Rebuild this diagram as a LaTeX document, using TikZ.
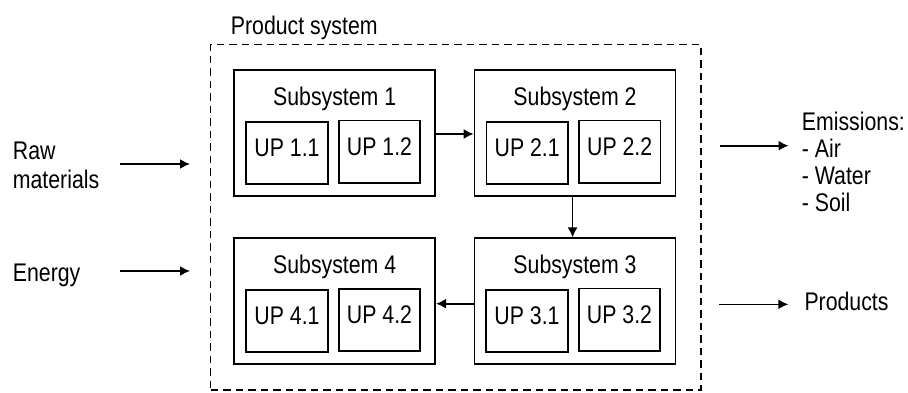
\documentclass[tikz,border=0pt]{standalone}
\usepackage{fontspec}
\setmainfont{Liberation Sans}[FakeStretch=0.835]
\usetikzlibrary{arrows.meta}
\begin{document}
\begin{tikzpicture}[x=1pt,y=1pt,
  lbl/.style={font=\fontsize{25.5}{27}\selectfont, inner sep=0pt},
  sbox/.style={draw, line width=1.8pt, minimum width=201pt, minimum height=126pt, inner sep=0pt},
  ubox/.style={draw, line width=1.8pt, minimum width=81.4pt, minimum height=62.3pt, inner sep=0pt},
  arr/.style={line width=1.6pt, -{Latex[length=10pt,width=10pt]}},
  dashbox/.style={draw, line width=1.5pt, dash pattern=on 7.5pt off 5pt, minimum width=490.3pt, minimum height=345.5pt, inner sep=0pt}]
\useasboundingbox (0,0) rectangle (908,-392);

% product system boundary
\node[dashbox] (ps) at (455.85,-217.25) {};
\node[lbl, anchor=base west] (pst) at (230.7,-34) {Product system};

% subsystems
\node[sbox] (s1) at (334.7,-133) {};
\node[sbox] (s2) at (575,-133) {};
\node[sbox] (s3) at (575,-301.3) {};
\node[sbox] (s4) at (334.7,-301.3) {};
\node[lbl, anchor=base] (s1t) at ([yshift=-36.3pt]s1.north) {Subsystem 1};
\node[lbl, anchor=base] (s2t) at ([yshift=-36.3pt]s2.north) {Subsystem 2};
\node[lbl, anchor=base] (s3t) at ([yshift=-36.3pt]s3.north) {Subsystem 3};
\node[lbl, anchor=base] (s4t) at ([yshift=-36.3pt]s4.north) {Subsystem 4};

% unit processes
\node[ubox] (u11) at (287,-153.2) {};
\node[ubox] (u12) at (379.5,-151.7) {};
\node[ubox] (u21) at (527.2,-153.2) {};
\node[ubox] (u22) at (619.7,-151.7) {};
\node[ubox] (u31) at (527,-321.2) {};
\node[ubox] (u32) at (619.5,-319.7) {};
\node[ubox] (u41) at (287,-321.2) {};
\node[ubox] (u42) at (379.5,-319.8) {};
\node[lbl, anchor=base] (u11t) at ([yshift=-35.6pt]u11.north) {UP 1.1};
\node[lbl, anchor=base] (u12t) at ([yshift=-35.6pt]u12.north) {UP 1.2};
\node[lbl, anchor=base] (u21t) at ([yshift=-35.6pt]u21.north) {UP 2.1};
\node[lbl, anchor=base] (u22t) at ([yshift=-35.6pt]u22.north) {UP 2.2};
\node[lbl, anchor=base] (u31t) at ([yshift=-35.6pt]u31.north) {UP 3.1};
\node[lbl, anchor=base] (u32t) at ([yshift=-35.6pt]u32.north) {UP 3.2};
\node[lbl, anchor=base] (u41t) at ([yshift=-35.6pt]u41.north) {UP 4.1};
\node[lbl, anchor=base] (u42t) at ([yshift=-35.6pt]u42.north) {UP 4.2};

% internal flows
\draw[arr] ([yshift=-1pt]s1.east) -- ([yshift=-1pt]s2.west);
\draw[arr] ([xshift=-2.4pt]s2.south) -- ([xshift=-2.4pt]s2.south |- s3.north);
\draw[arr] ([yshift=-2.4pt]s3.west) -- ([yshift=-2.4pt]s3.west -| s4.east);

% inputs
\node[lbl, anchor=base west] (raw1) at (12.7,-159) {Raw};
\node[lbl, anchor=base west] (raw2) at (12.7,-188.3) {materials};
\node[lbl, anchor=base west] (energy) at (12.7,-281.7) {Energy};
\coordinate (rawA) at (120,-164);
\coordinate (rawB) at (190,-164);
\coordinate (enA) at (120,-271);
\coordinate (enB) at (190,-271);
\draw[arr] (rawA) -- (rawB);
\draw[arr] (enA) -- (enB);

% outputs
\node[lbl, anchor=base west] (em1) at (801.7,-130.5) {Emissions:};
\node[lbl, anchor=base west] (em2) at (801.7,-157.5) {- Air};
\node[lbl, anchor=base west] (em3) at (801.7,-184.5) {- Water};
\node[lbl, anchor=base west] (em4) at (801.7,-211.5) {- Soil};
\node[lbl, anchor=base west] (prod) at (804.3,-310) {Products};
\coordinate (emA) at (720,-145.7);
\coordinate (emB) at (788.5,-145.7);
\coordinate (prA) at (719.3,-304.3);
\coordinate (prB) at (788.3,-304.3);
\draw[arr] (emA) -- (emB);
\draw[arr] (prA) -- (prB);
\end{tikzpicture}
\end{document}
